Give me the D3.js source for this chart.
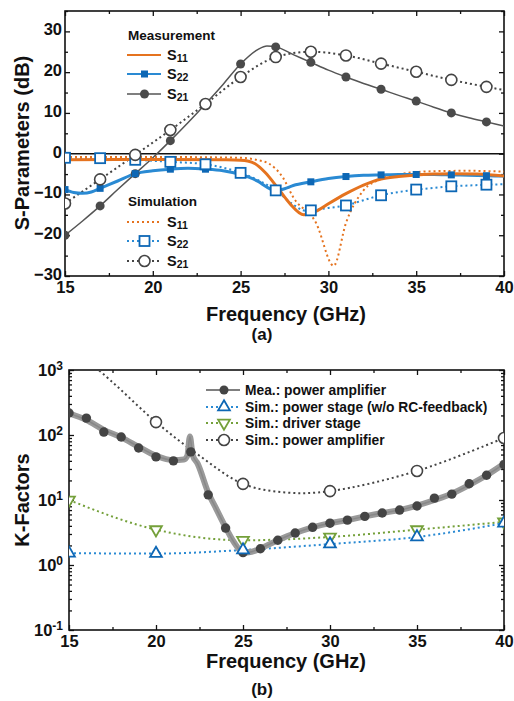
<!DOCTYPE html>
<html>
<head>
<meta charset="utf-8">
<script src="https://cdn.jsdelivr.net/npm/d3@7"></script>
<style>
body{margin:0;background:#fff}
text{font-family:"Liberation Sans",Arial,sans-serif;font-weight:bold;fill:#111}
.tick text{font-size:16.5px}
.tick line{stroke:#111;stroke-width:1.3}
</style>
</head>
<body>
<svg width="514" height="701"></svg>
<script>
// ---- (a) S-parameters ----
const freqTicks=[15,20,25,30,35,40];
const oddF=[15,17,19,21,23,25,27,29,31,33,35,37,39];

const s11MeasF=[15,18,21,24,25,25.4,25.8,26.4,27.1,27.8,28.6,29.4,30,31,32,33,34,35,36,37,38.5,40];
const s11MeasV=[-1.5,-1.4,-1.4,-1.5,-1.6,-1.8,-2.4,-4.6,-8.3,-12.2,-15,-13.9,-12.3,-9.8,-7.7,-6.2,-5.6,-5.2,-5.0,-4.9,-5.0,-5.5];

const s22MeasF=[15,15.5,16,16.5,17,18,19,20,21,22,23,24,25,25.5,26,26.5,27,27.5,28,29,30,31,32,33,34,35,36,37,38,39,40];
const s22MeasV=[-8.8,-9.5,-9.7,-9.4,-8.5,-6.7,-4.9,-4.2,-3.8,-3.6,-3.8,-4.2,-5.1,-5.8,-6.8,-8.2,-9.1,-8.6,-7.8,-6.9,-6.1,-5.6,-5.3,-5.2,-5.1,-5.1,-5.1,-5.2,-5.3,-5.4,-5.5];

const s21MeasF=[15,16,17,18,19,20,21,22,23,24,25,26,26.5,27,28,29,30,31,32,33,34,35,36,37,38,39,40];
const s21MeasV=[-20,-16.5,-12.8,-8.8,-4.9,-1,3.2,7.6,12.2,17,22,25.6,26.4,26.2,24.3,22.4,20.5,18.8,17.2,15.8,14.3,12.9,11.4,10.0,8.8,7.8,6.8];

const s11SimF=[15,20,25,26,26.6,27.4,28,29.3,30.3,31,32,33,34.2,36,38,40];
const s11SimV=[-0.8,-0.8,-1.0,-1.6,-2.4,-5.8,-10.7,-17,-27.5,-17,-9,-6.2,-4.9,-4.3,-4.2,-4.4];

const s22SimF=[15,17,19,21,23,25,26,27,28,28.7,29,30,31,32,33,34,35,36,37,38,39,40];
const s22SimV=[-1,-1.1,-1.5,-2,-2.6,-4.7,-6.5,-9,-12.5,-14,-13.9,-13.3,-12.7,-11.4,-10.2,-9.4,-8.8,-8.4,-8.0,-7.8,-7.6,-7.5];

const s21SimF=[15,17,19,21,23,25,27,29,31,33,35,37,39,40];
const s21SimV=[-12.2,-6.3,-0.3,5.8,12.2,18.8,23.7,25,24.1,22.1,20.1,18.1,16.4,15.6];

// ---- (b) K-factors ----
const kMeasF=[15,16,17,18,19,20,21,22,23,24,25,26,27,28,29,30,31,32,33,34,35,36,37,38,39,40];
const kMeasV=[218,182,111,93,63,46,40,55,12,3.7,1.55,1.78,2.4,3.1,3.8,4.4,4.9,5.6,6.3,7.0,8.1,10.7,12.3,17.8,24,35];
const bandF=[15,16,17,18,19,20,21,21.6,21.8,21.95,22.1,22.4,23,23.5,24,24.5,25,25.5,26,27,28,29,30,31,32,33,34,35,36,37,38,39,40];
const bandV=[215,170,120,92,66,48,41,42,48,95,50,36,13,7,3.8,2.2,1.55,1.6,1.8,2.4,3.1,3.8,4.4,4.9,5.6,6.3,7.0,8.2,10,12.5,17,24,36];
const simF=[15,20,25,30,35,40];
const kStageV=[1.52,1.5,1.7,2.1,2.7,4.4];
const kDriverV=[10,3.5,2.4,2.7,3.5,4.6];
const kPaF=[15,17.5,20,22.5,25,27.5,30,35,40];
const kPaV=[2500,650,158,48,17.7,13,13.7,28,90];
const kPaMarkF=[20,25,30,35,40];

const cOrange='#e5731f', cBlue='#2a8ad3', cBlueDk='#0d67b5', cGrey='#555', cGreen='#74a03a';

const svg=d3.select('svg');
const zip=(F,V)=>F.map((f,i)=>[f,V[i]]);

/* panel a */
const x=d3.scaleLinear().domain([15,40]).range([65,504]);
const y=d3.scaleLinear().domain([-30,35]).range([276,11]);

const frame=(x,y,yTicks,yMinor,yFmt,pad)=>{
  const [L,R]=x.range(), [B,T]=y.range();
  const g=svg.append('g');
  const minX=d3.range(17.5,40,5);
  g.append('g').attr('transform',`translate(0,${B})`)
    .call(d3.axisBottom(x).tickValues(freqTicks).tickSizeInner(-5).tickSizeOuter(0).tickPadding(5).tickFormat(d3.format('d')));
  g.append('g').attr('transform',`translate(0,${B})`)
    .call(d3.axisBottom(x).tickValues(minX).tickSizeInner(-3).tickSizeOuter(0).tickFormat(''));
  g.append('g').attr('transform',`translate(0,${T})`)
    .call(d3.axisTop(x).tickValues(freqTicks).tickSizeInner(-5).tickSizeOuter(0).tickFormat(''));
  g.append('g').attr('transform',`translate(0,${T})`)
    .call(d3.axisTop(x).tickValues(minX).tickSizeInner(-3).tickSizeOuter(0).tickFormat(''));
  const ya=g.append('g').attr('transform',`translate(${L},0)`)
    .call(d3.axisLeft(y).tickValues(yTicks).tickSizeInner(-5).tickSizeOuter(0).tickPadding(pad).tickFormat(yFmt));
  g.append('g').attr('transform',`translate(${L},0)`)
    .call(d3.axisLeft(y).tickValues(yMinor).tickSizeInner(-3).tickSizeOuter(0).tickFormat(''));
  g.append('g').attr('transform',`translate(${R},0)`)
    .call(d3.axisRight(y).tickValues(yTicks).tickSizeInner(-5).tickSizeOuter(0).tickFormat(''));
  g.append('g').attr('transform',`translate(${R},0)`)
    .call(d3.axisRight(y).tickValues(yMinor).tickSizeInner(-3).tickSizeOuter(0).tickFormat(''));
  g.selectAll('.domain').remove();
  g.selectAll('.tick text').attr('fill','#111');
  svg.append('rect').attr('x',L).attr('y',T).attr('width',R-L).attr('height',B-T)
    .attr('fill','none').attr('stroke','#111').attr('stroke-width',1.6);
  return ya;
};

const ya1=frame(x,y,d3.range(-30,31,10),d3.range(-25,36,10),d3.format('d'),3);
ya1.selectAll('.tick text').attr('dy','0.2em');

svg.append('clipPath').attr('id','clipA').append('rect')
  .attr('x',65).attr('y',11).attr('width',439).attr('height',265);
const pa=svg.append('g').attr('clip-path','url(#clipA)');

pa.append('line').attr('x1',65).attr('x2',504).attr('y1',y(0)).attr('y2',y(0))
  .attr('stroke','#111').attr('stroke-width',1.5);

const lineA=d3.line().x(d=>x(d[0])).y(d=>y(d[1])).curve(d3.curveMonotoneX);
const drawA=(F,V,color,w,dash)=>pa.append('path').datum(zip(F,V)).attr('d',lineA)
  .attr('fill','none').attr('stroke',color).attr('stroke-width',w)
  .attr('stroke-dasharray',dash||null);

drawA(s21SimF,s21SimV,'#444',2,'2,3');
drawA(s22SimF,s22SimV,cBlue,2,'2,3');
drawA(s11SimF,s11SimV,cOrange,2,'2,3');
drawA(s21MeasF,s21MeasV,cGrey,1.5);
drawA(s22MeasF,s22MeasV,cBlue,3);
drawA(s11MeasF,s11MeasV,cOrange,3);

const pick=(F,V,keep)=>zip(F,V).filter(d=>keep.includes(d[0]));

pa.selectAll('.m21').data(pick(s21MeasF,s21MeasV,oddF)).join('circle')
  .attr('cx',d=>x(d[0])).attr('cy',d=>y(d[1])).attr('r',4.5).attr('fill','#4a4a4a');
pa.selectAll('.m22').data(pick(s22MeasF,s22MeasV,oddF)).join('rect')
  .attr('x',d=>x(d[0])-3.5).attr('y',d=>y(d[1])-3.5).attr('width',7).attr('height',7).attr('fill',cBlueDk);
pa.selectAll('.s22').data(pick(s22SimF,s22SimV,oddF)).join('rect')
  .attr('x',d=>x(d[0])-5).attr('y',d=>y(d[1])-5).attr('width',10).attr('height',10)
  .attr('fill','#fff').attr('stroke',cBlueDk).attr('stroke-width',1.8);
pa.selectAll('.s21').data(pick(s21SimF,s21SimV,oddF)).join('circle')
  .attr('cx',d=>x(d[0])).attr('cy',d=>y(d[1])).attr('r',5.5)
  .attr('fill','#fff').attr('stroke','#444').attr('stroke-width',1.6);

// legend a
const legA=svg.append('g');
const sLabel=(yy,sub)=>{
  const t=legA.append('text').attr('x',167).attr('y',yy+5).attr('font-size','14.5px');
  t.append('tspan').text('S');
  t.append('tspan').attr('font-size','10.5px').attr('dy','2').text(sub);
};
legA.append('text').attr('x',128).attr('y',40).attr('font-size','13.5px').text('Measurement');
legA.append('text').attr('x',128).attr('y',206).attr('font-size','13.5px').text('Simulation');
const rowsA=[
  {y:55,c:cOrange,w:2,sub:'11'},
  {y:74,c:cBlue,w:2,sub:'22',m:'sq'},
  {y:94,c:cGrey,w:1.5,sub:'21',m:'ci'},
  {y:222,c:cOrange,w:2,sub:'11',dash:'2,3'},
  {y:241,c:cBlue,w:2,sub:'22',dash:'2,3',m:'osq'},
  {y:261,c:'#444',w:2,sub:'21',dash:'2,3',m:'oci'}];
rowsA.forEach(r=>{
  legA.append('line').attr('x1',127).attr('x2',161).attr('y1',r.y).attr('y2',r.y)
    .attr('stroke',r.c).attr('stroke-width',r.w).attr('stroke-dasharray',r.dash||null);
  if(r.m==='sq') legA.append('rect').attr('x',141).attr('y',r.y-3.5).attr('width',7).attr('height',7).attr('fill',cBlueDk);
  if(r.m==='ci') legA.append('circle').attr('cx',144.5).attr('cy',r.y).attr('r',4.5).attr('fill','#4a4a4a');
  if(r.m==='osq') legA.append('rect').attr('x',139.5).attr('y',r.y-5).attr('width',10).attr('height',10)
    .attr('fill','#fff').attr('stroke',cBlueDk).attr('stroke-width',1.8);
  if(r.m==='oci') legA.append('circle').attr('cx',144.5).attr('cy',r.y).attr('r',5.5)
    .attr('fill','#fff').attr('stroke','#444').attr('stroke-width',1.6);
  sLabel(r.y,r.sub);
});

svg.append('text').attr('transform','translate(22,143) rotate(-90)').attr('dy','0.35em')
  .attr('text-anchor','middle').attr('font-size','20px').text('S-Parameters (dB)');
svg.append('text').attr('x',286).attr('y',321).attr('text-anchor','middle').attr('font-size','20px').text('Frequency (GHz)');
svg.append('text').attr('x',262).attr('y',340).attr('text-anchor','middle').attr('font-size','17px').text('(a)');

/* panel b */
const x2=d3.scaleLinear().domain([15,40]).range([69,504]);
const y2=d3.scaleLog().domain([0.1,1000]).range([630,370]);
const decades=[0.1,1,10,100,1000];
const minorLog=[];
[0.1,1,10,100].forEach(d=>{for(let k=2;k<10;k++) minorLog.push(d*k);});
const ya2=frame(x2,y2,decades,minorLog,()=>'',6);
ya2.selectAll('.tick text').each(function(d){
  const t=d3.select(this);
  t.append('tspan').text('10');
  t.append('tspan').attr('dy','-0.5em').attr('font-size','12px').text(Math.round(Math.log10(d)));
});

svg.append('clipPath').attr('id','clipB').append('rect')
  .attr('x',69).attr('y',370).attr('width',435).attr('height',260);
const pb=svg.append('g').attr('clip-path','url(#clipB)');

const lineB=d3.line().x(d=>x2(d[0])).y(d=>y2(d[1])).curve(d3.curveMonotoneX);
const lineBs=d3.line().x(d=>x2(d[0])).y(d=>y2(d[1])).curve(d3.curveCatmullRom);

pb.append('path').datum(zip(kPaF,kPaV)).attr('d',lineBs).attr('fill','none')
  .attr('stroke','#444').attr('stroke-width',2).attr('stroke-dasharray','2,3');
pb.append('path').datum(zip(simF,kDriverV)).attr('d',lineB).attr('fill','none')
  .attr('stroke',cGreen).attr('stroke-width',2).attr('stroke-dasharray','2,3');
pb.append('path').datum(zip(simF,kStageV)).attr('d',lineB).attr('fill','none')
  .attr('stroke',cBlue).attr('stroke-width',2).attr('stroke-dasharray','2,3');
pb.append('path').datum(zip(bandF,bandV)).attr('d',lineB).attr('fill','none')
  .attr('stroke','#9a9a9a').attr('stroke-width',6).attr('stroke-linejoin','round');
pb.append('path').datum(zip(bandF,bandV)).attr('d',lineB).attr('fill','none')
  .attr('stroke','#888').attr('stroke-width',1.5);

pb.selectAll('.km').data(zip(kMeasF,kMeasV)).join('circle')
  .attr('cx',d=>x2(d[0])).attr('cy',d=>y2(d[1])).attr('r',4.7).attr('fill','#444');

const triUp=d3.symbol().type(d3.symbolTriangle).size(60);
pb.selectAll('.kd').data(zip(simF,kDriverV)).join('path')
  .attr('d',triUp).attr('transform',d=>`translate(${x2(d[0])},${y2(d[1])}) rotate(180)`)
  .attr('fill','#fff').attr('stroke',cGreen).attr('stroke-width',1.8);
pb.selectAll('.ks').data(zip(simF,kStageV)).join('path')
  .attr('d',triUp).attr('transform',d=>`translate(${x2(d[0])},${y2(d[1])})`)
  .attr('fill','#fff').attr('stroke',cBlueDk).attr('stroke-width',1.8);
pb.selectAll('.kp').data(pick(kPaF,kPaV,kPaMarkF)).join('circle')
  .attr('cx',d=>x2(d[0])).attr('cy',d=>y2(d[1])).attr('r',5.5)
  .attr('fill','#fff').attr('stroke','#444').attr('stroke-width',1.6);

// legend b
const legB=svg.append('g');
const rowsB=[
  {y:390,c:cGrey,w:1.5,m:'ci',t:'Mea.: power amplifier'},
  {y:407,c:cBlue,w:2,dash:'2,3',m:'up',t:'Sim.: power stage (w/o RC-feedback)'},
  {y:423,c:cGreen,w:2,dash:'2,3',m:'dn',t:'Sim.: driver stage'},
  {y:440,c:'#444',w:2,dash:'2,3',m:'oci',t:'Sim.: power amplifier'}];
rowsB.forEach(r=>{
  legB.append('line').attr('x1',206).attr('x2',240).attr('y1',r.y).attr('y2',r.y)
    .attr('stroke',r.c).attr('stroke-width',r.w).attr('stroke-dasharray',r.dash||null);
  if(r.m==='ci') legB.append('circle').attr('cx',224).attr('cy',r.y).attr('r',4.5).attr('fill','#444');
  if(r.m==='oci') legB.append('circle').attr('cx',224).attr('cy',r.y).attr('r',5.5)
    .attr('fill','#fff').attr('stroke','#444').attr('stroke-width',1.6);
  if(r.m==='up') legB.append('path').attr('d',triUp).attr('transform',`translate(224,${r.y})`)
    .attr('fill','#fff').attr('stroke',cBlueDk).attr('stroke-width',1.8);
  if(r.m==='dn') legB.append('path').attr('d',triUp).attr('transform',`translate(224,${r.y}) rotate(180)`)
    .attr('fill','#fff').attr('stroke',cGreen).attr('stroke-width',1.8);
  legB.append('text').attr('x',245).attr('y',r.y+5).attr('font-size','13.8px').text(r.t);
});

svg.append('text').attr('transform','translate(22,500) rotate(-90)').attr('dy','0.35em')
  .attr('text-anchor','middle').attr('font-size','20px').text('K-Factors');
svg.append('text').attr('x',286).attr('y',668).attr('text-anchor','middle').attr('font-size','20px').text('Frequency (GHz)');
svg.append('text').attr('x',262).attr('y',695).attr('text-anchor','middle').attr('font-size','17px').text('(b)');
</script>
</body>
</html>
